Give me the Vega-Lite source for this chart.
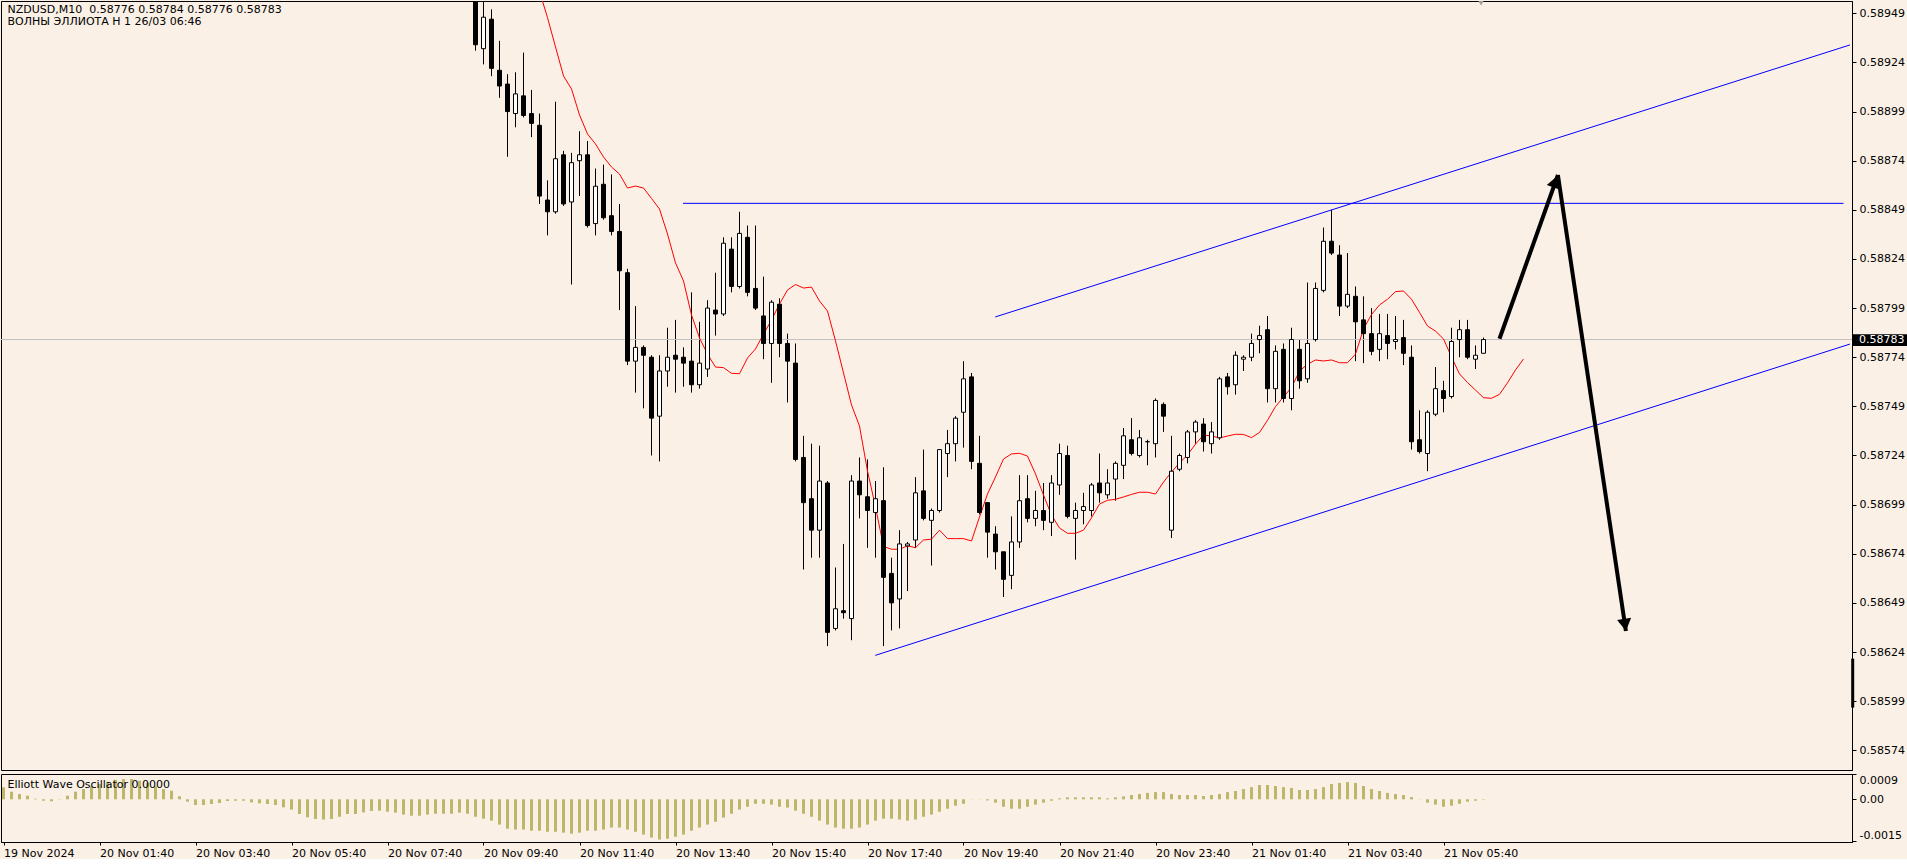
{
"$schema": "https://vega.github.io/schema/vega-lite/v6.json",
"padding": 0,
"background": "#FAF0E6",
"spacing": 2,
"config": {
  "view": {"stroke": "black", "strokeWidth": 1},
  "font": "DejaVu Sans",
  "scale": {"continuousPadding": 0},
  "axis": {"labelFont": "DejaVu Sans", "labelFontSize": 11, "labelColor": "black", "tickColor": "black", "domainColor": "black", "grid": false, "title": null}
},
"datasets": {
"candles": [
{"t":"2024-11-20T09:30","o":0.58962,"h":0.58966,"l":0.5893,"c":0.58933},
{"t":"2024-11-20T09:40","o":0.58931,"h":0.5896,"l":0.58923,"c":0.58947},
{"t":"2024-11-20T09:50","o":0.58946,"h":0.58951,"l":0.58917,"c":0.58921},
{"t":"2024-11-20T10:00","o":0.5892,"h":0.58935,"l":0.58906,"c":0.58912},
{"t":"2024-11-20T10:10","o":0.58913,"h":0.58918,"l":0.58876,"c":0.58899},
{"t":"2024-11-20T10:20","o":0.58898,"h":0.58919,"l":0.58891,"c":0.58908},
{"t":"2024-11-20T10:30","o":0.58907,"h":0.58929,"l":0.58896,"c":0.58897},
{"t":"2024-11-20T10:40","o":0.58898,"h":0.5891,"l":0.58886,"c":0.58893},
{"t":"2024-11-20T10:50","o":0.58892,"h":0.58898,"l":0.58852,"c":0.58856},
{"t":"2024-11-20T11:00","o":0.58854,"h":0.58864,"l":0.58836,"c":0.58848},
{"t":"2024-11-20T11:10","o":0.58848,"h":0.58904,"l":0.58847,"c":0.58875},
{"t":"2024-11-20T11:20","o":0.58877,"h":0.58879,"l":0.58851,"c":0.58852},
{"t":"2024-11-20T11:30","o":0.58853,"h":0.58878,"l":0.58811,"c":0.58873},
{"t":"2024-11-20T11:40","o":0.58874,"h":0.58889,"l":0.58856,"c":0.58877},
{"t":"2024-11-20T11:50","o":0.58877,"h":0.58884,"l":0.5884,"c":0.58841},
{"t":"2024-11-20T12:00","o":0.58842,"h":0.5887,"l":0.58836,"c":0.58861},
{"t":"2024-11-20T12:10","o":0.58862,"h":0.58872,"l":0.58844,"c":0.58845},
{"t":"2024-11-20T12:20","o":0.58846,"h":0.58867,"l":0.58836,"c":0.58838},
{"t":"2024-11-20T12:30","o":0.58838,"h":0.58852,"l":0.58798,"c":0.58818},
{"t":"2024-11-20T12:40","o":0.58817,"h":0.58819,"l":0.5877,"c":0.58772},
{"t":"2024-11-20T12:50","o":0.58772,"h":0.588,"l":0.58756,"c":0.58779},
{"t":"2024-11-20T13:00","o":0.58779,"h":0.5878,"l":0.58748,"c":0.58775},
{"t":"2024-11-20T13:10","o":0.58774,"h":0.58775,"l":0.58724,"c":0.58743},
{"t":"2024-11-20T13:20","o":0.58744,"h":0.58775,"l":0.58721,"c":0.58767},
{"t":"2024-11-20T13:30","o":0.58767,"h":0.58789,"l":0.58759,"c":0.58774},
{"t":"2024-11-20T13:40","o":0.58775,"h":0.58793,"l":0.58756,"c":0.58773},
{"t":"2024-11-20T13:50","o":0.58774,"h":0.58779,"l":0.58759,"c":0.58771},
{"t":"2024-11-20T14:00","o":0.58772,"h":0.58807,"l":0.58756,"c":0.5876},
{"t":"2024-11-20T14:10","o":0.5876,"h":0.58792,"l":0.58758,"c":0.58771},
{"t":"2024-11-20T14:20","o":0.58768,"h":0.58803,"l":0.58764,"c":0.58799},
{"t":"2024-11-20T14:30","o":0.58798,"h":0.58817,"l":0.58785,"c":0.58796},
{"t":"2024-11-20T14:40","o":0.58796,"h":0.58835,"l":0.58795,"c":0.58832},
{"t":"2024-11-20T14:50","o":0.58829,"h":0.58835,"l":0.58807,"c":0.5881},
{"t":"2024-11-20T15:00","o":0.5881,"h":0.58848,"l":0.58809,"c":0.58837},
{"t":"2024-11-20T15:10","o":0.58835,"h":0.58841,"l":0.58805,"c":0.58807},
{"t":"2024-11-20T15:20","o":0.58809,"h":0.58841,"l":0.58798,"c":0.58799},
{"t":"2024-11-20T15:30","o":0.58795,"h":0.58815,"l":0.58773,"c":0.58781},
{"t":"2024-11-20T15:40","o":0.58781,"h":0.58803,"l":0.58761,"c":0.58802},
{"t":"2024-11-20T15:50","o":0.58801,"h":0.58804,"l":0.58774,"c":0.58781},
{"t":"2024-11-20T16:00","o":0.58781,"h":0.58786,"l":0.58751,"c":0.58772},
{"t":"2024-11-20T16:10","o":0.58771,"h":0.58781,"l":0.58721,"c":0.58722},
{"t":"2024-11-20T16:20","o":0.58723,"h":0.58734,"l":0.58666,"c":0.587},
{"t":"2024-11-20T16:30","o":0.58702,"h":0.5873,"l":0.58672,"c":0.58686},
{"t":"2024-11-20T16:40","o":0.58686,"h":0.58729,"l":0.58672,"c":0.58711},
{"t":"2024-11-20T16:50","o":0.5871,"h":0.58711,"l":0.58627,"c":0.58634},
{"t":"2024-11-20T17:00","o":0.58636,"h":0.58667,"l":0.58635,"c":0.58646},
{"t":"2024-11-20T17:10","o":0.58645,"h":0.58679,"l":0.58641,"c":0.58644},
{"t":"2024-11-20T17:20","o":0.58641,"h":0.58714,"l":0.5863,"c":0.58711},
{"t":"2024-11-20T17:30","o":0.58711,"h":0.58723,"l":0.58692,"c":0.58704},
{"t":"2024-11-20T17:40","o":0.58703,"h":0.58722,"l":0.58677,"c":0.58696},
{"t":"2024-11-20T17:50","o":0.58695,"h":0.58711,"l":0.58672,"c":0.58702},
{"t":"2024-11-20T18:00","o":0.58701,"h":0.58718,"l":0.58627,"c":0.58662},
{"t":"2024-11-20T18:10","o":0.58664,"h":0.58672,"l":0.58635,"c":0.58649},
{"t":"2024-11-20T18:20","o":0.58651,"h":0.58686,"l":0.58636,"c":0.58679},
{"t":"2024-11-20T18:30","o":0.58678,"h":0.5868,"l":0.58655,"c":0.58679},
{"t":"2024-11-20T18:40","o":0.58681,"h":0.58713,"l":0.58677,"c":0.58705},
{"t":"2024-11-20T18:50","o":0.58706,"h":0.58727,"l":0.58691,"c":0.58692},
{"t":"2024-11-20T19:00","o":0.58691,"h":0.58697,"l":0.58668,"c":0.58696},
{"t":"2024-11-20T19:10","o":0.58696,"h":0.58727,"l":0.58695,"c":0.58727},
{"t":"2024-11-20T19:20","o":0.58725,"h":0.58737,"l":0.58713,"c":0.5873},
{"t":"2024-11-20T19:30","o":0.5873,"h":0.58744,"l":0.58721,"c":0.58743},
{"t":"2024-11-20T19:40","o":0.58746,"h":0.58772,"l":0.58728,"c":0.58763},
{"t":"2024-11-20T19:50","o":0.58764,"h":0.58766,"l":0.58717,"c":0.58721},
{"t":"2024-11-20T20:00","o":0.5872,"h":0.58734,"l":0.58694,"c":0.58695},
{"t":"2024-11-20T20:10","o":0.587,"h":0.587,"l":0.58672,"c":0.58685},
{"t":"2024-11-20T20:20","o":0.58684,"h":0.58688,"l":0.58666,"c":0.58675},
{"t":"2024-11-20T20:30","o":0.58675,"h":0.58675,"l":0.58652,"c":0.58661},
{"t":"2024-11-20T20:40","o":0.58663,"h":0.58693,"l":0.58656,"c":0.5868},
{"t":"2024-11-20T20:50","o":0.5868,"h":0.58714,"l":0.58677,"c":0.58701},
{"t":"2024-11-20T21:00","o":0.58702,"h":0.58714,"l":0.5869,"c":0.58692},
{"t":"2024-11-20T21:10","o":0.58692,"h":0.58706,"l":0.58688,"c":0.58696},
{"t":"2024-11-20T21:20","o":0.58696,"h":0.5871,"l":0.58686,"c":0.58691},
{"t":"2024-11-20T21:30","o":0.5869,"h":0.58714,"l":0.58683,"c":0.5871},
{"t":"2024-11-20T21:40","o":0.58709,"h":0.5873,"l":0.58704,"c":0.58725},
{"t":"2024-11-20T21:50","o":0.58724,"h":0.58729,"l":0.58692,"c":0.58693},
{"t":"2024-11-20T22:00","o":0.58692,"h":0.587,"l":0.58671,"c":0.58696},
{"t":"2024-11-20T22:10","o":0.58696,"h":0.58705,"l":0.58689,"c":0.58698},
{"t":"2024-11-20T22:20","o":0.58696,"h":0.5871,"l":0.58693,"c":0.58709},
{"t":"2024-11-20T22:30","o":0.5871,"h":0.58725,"l":0.587,"c":0.58705},
{"t":"2024-11-20T22:40","o":0.58704,"h":0.58717,"l":0.58702,"c":0.5871},
{"t":"2024-11-20T22:50","o":0.58712,"h":0.58721,"l":0.58701,"c":0.5872},
{"t":"2024-11-20T23:00","o":0.58719,"h":0.58738,"l":0.58712,"c":0.58734},
{"t":"2024-11-20T23:10","o":0.58732,"h":0.58743,"l":0.58724,"c":0.58725},
{"t":"2024-11-20T23:20","o":0.58724,"h":0.58737,"l":0.58723,"c":0.58733},
{"t":"2024-11-20T23:30","o":0.58731,"h":0.58732,"l":0.58719,"c":0.58731},
{"t":"2024-11-20T23:40","o":0.5873,"h":0.58753,"l":0.58723,"c":0.58752},
{"t":"2024-11-20T23:50","o":0.5875,"h":0.58751,"l":0.58736,"c":0.58744},
{"t":"2024-11-21T00:00","o":0.58686,"h":0.58734,"l":0.58682,"c":0.58716},
{"t":"2024-11-21T00:10","o":0.58717,"h":0.58725,"l":0.58716,"c":0.58724},
{"t":"2024-11-21T00:20","o":0.58723,"h":0.58737,"l":0.5872,"c":0.58736},
{"t":"2024-11-21T00:30","o":0.58736,"h":0.58742,"l":0.5873,"c":0.58741},
{"t":"2024-11-21T00:40","o":0.5874,"h":0.58743,"l":0.58726,"c":0.58731},
{"t":"2024-11-21T00:50","o":0.5873,"h":0.58741,"l":0.58725,"c":0.58736},
{"t":"2024-11-21T01:00","o":0.58733,"h":0.58764,"l":0.58732,"c":0.58763},
{"t":"2024-11-21T01:10","o":0.58764,"h":0.58766,"l":0.58755,"c":0.58759},
{"t":"2024-11-21T01:20","o":0.5876,"h":0.58777,"l":0.58755,"c":0.58775},
{"t":"2024-11-21T01:30","o":0.58773,"h":0.58775,"l":0.58767,"c":0.58774},
{"t":"2024-11-21T01:40","o":0.58774,"h":0.58786,"l":0.58772,"c":0.58781},
{"t":"2024-11-21T01:50","o":0.58783,"h":0.5879,"l":0.58776,"c":0.58785},
{"t":"2024-11-21T02:00","o":0.58788,"h":0.58795,"l":0.58751,"c":0.58758},
{"t":"2024-11-21T02:10","o":0.58758,"h":0.5878,"l":0.58751,"c":0.58777},
{"t":"2024-11-21T02:20","o":0.58778,"h":0.58781,"l":0.58751,"c":0.58753},
{"t":"2024-11-21T02:30","o":0.58753,"h":0.58789,"l":0.58747,"c":0.58783},
{"t":"2024-11-21T02:40","o":0.58778,"h":0.58783,"l":0.58758,"c":0.58762},
{"t":"2024-11-21T02:50","o":0.58763,"h":0.58812,"l":0.58761,"c":0.58781},
{"t":"2024-11-21T03:00","o":0.58783,"h":0.58812,"l":0.58782,"c":0.58809},
{"t":"2024-11-21T03:10","o":0.58808,"h":0.5884,"l":0.58807,"c":0.58833},
{"t":"2024-11-21T03:20","o":0.58833,"h":0.58849,"l":0.58826,"c":0.58827},
{"t":"2024-11-21T03:30","o":0.58826,"h":0.58831,"l":0.58795,"c":0.588},
{"t":"2024-11-21T03:40","o":0.588,"h":0.58827,"l":0.58799,"c":0.58806},
{"t":"2024-11-21T03:50","o":0.58805,"h":0.5881,"l":0.58772,"c":0.58792},
{"t":"2024-11-21T04:00","o":0.58793,"h":0.58805,"l":0.58771,"c":0.58786},
{"t":"2024-11-21T04:10","o":0.58786,"h":0.58799,"l":0.58775,"c":0.58777},
{"t":"2024-11-21T04:20","o":0.58778,"h":0.58796,"l":0.58772,"c":0.58786},
{"t":"2024-11-21T04:30","o":0.58785,"h":0.58796,"l":0.58773,"c":0.58781},
{"t":"2024-11-21T04:40","o":0.58782,"h":0.58795,"l":0.58778,"c":0.58783},
{"t":"2024-11-21T04:50","o":0.58784,"h":0.58793,"l":0.5877,"c":0.58776},
{"t":"2024-11-21T05:00","o":0.58774,"h":0.5878,"l":0.58727,"c":0.58731},
{"t":"2024-11-21T05:10","o":0.58732,"h":0.58747,"l":0.58725,"c":0.58726},
{"t":"2024-11-21T05:20","o":0.58725,"h":0.58747,"l":0.58716,"c":0.58746},
{"t":"2024-11-21T05:30","o":0.58745,"h":0.58769,"l":0.58744,"c":0.58758},
{"t":"2024-11-21T05:40","o":0.58757,"h":0.58762,"l":0.58746,"c":0.58753},
{"t":"2024-11-21T05:50","o":0.58754,"h":0.58789,"l":0.58753,"c":0.58782},
{"t":"2024-11-21T06:00","o":0.58783,"h":0.58793,"l":0.58774,"c":0.58788},
{"t":"2024-11-21T06:10","o":0.58788,"h":0.58793,"l":0.58773,"c":0.58774},
{"t":"2024-11-21T06:20","o":0.58773,"h":0.5878,"l":0.58768,"c":0.58775},
{"t":"2024-11-21T06:30","o":0.58776,"h":0.58784,"l":0.58776,"c":0.58783}
],
"ma": [
{"t":"2024-11-20T10:50","v":0.589602},{"t":"2024-11-20T11:00","v":0.589468},{"t":"2024-11-20T11:10","v":0.589319},{"t":"2024-11-20T11:20","v":0.589171},
{"t":"2024-11-20T11:30","v":0.589105},{"t":"2024-11-20T11:40","v":0.588973},{"t":"2024-11-20T11:50","v":0.588876},{"t":"2024-11-20T12:00","v":0.588825},
{"t":"2024-11-20T12:10","v":0.588759},{"t":"2024-11-20T12:20","v":0.588708},{"t":"2024-11-20T12:30","v":0.588672},{"t":"2024-11-20T12:40","v":0.588601},
{"t":"2024-11-20T12:50","v":0.588611},{"t":"2024-11-20T13:00","v":0.588601},{"t":"2024-11-20T13:10","v":0.588548},{"t":"2024-11-20T13:20","v":0.588494},
{"t":"2024-11-20T13:30","v":0.588367},{"t":"2024-11-20T13:40","v":0.58822},{"t":"2024-11-20T13:50","v":0.588128},{"t":"2024-11-20T14:00","v":0.587955},
{"t":"2024-11-20T14:10","v":0.587838},{"t":"2024-11-20T14:20","v":0.587756},{"t":"2024-11-20T14:30","v":0.58769},{"t":"2024-11-20T14:40","v":0.587687},
{"t":"2024-11-20T14:50","v":0.587658},{"t":"2024-11-20T15:00","v":0.587656},{"t":"2024-11-20T15:10","v":0.587736},{"t":"2024-11-20T15:20","v":0.587782},
{"t":"2024-11-20T15:30","v":0.587858},{"t":"2024-11-20T15:40","v":0.587929},{"t":"2024-11-20T15:50","v":0.588011},{"t":"2024-11-20T16:00","v":0.588082},
{"t":"2024-11-20T16:10","v":0.58811},{"t":"2024-11-20T16:20","v":0.588092},{"t":"2024-11-20T16:30","v":0.588097},{"t":"2024-11-20T16:40","v":0.588026},
{"t":"2024-11-20T16:50","v":0.587975},{"t":"2024-11-20T17:00","v":0.587823},{"t":"2024-11-20T17:10","v":0.58766},{"t":"2024-11-20T17:20","v":0.587497},
{"t":"2024-11-20T17:30","v":0.58739},{"t":"2024-11-20T17:40","v":0.587161},{"t":"2024-11-20T17:50","v":0.586978},{"t":"2024-11-20T18:00","v":0.586777},
{"t":"2024-11-20T18:10","v":0.586763},{"t":"2024-11-20T18:20","v":0.586763},{"t":"2024-11-20T18:30","v":0.58678},{"t":"2024-11-20T18:40","v":0.586771},
{"t":"2024-11-20T18:50","v":0.58681},{"t":"2024-11-20T19:00","v":0.586814},{"t":"2024-11-20T19:10","v":0.58686},{"t":"2024-11-20T19:20","v":0.586817},
{"t":"2024-11-20T19:30","v":0.586817},{"t":"2024-11-20T19:40","v":0.586817},{"t":"2024-11-20T19:50","v":0.586805},{"t":"2024-11-20T20:00","v":0.586927},
{"t":"2024-11-20T20:10","v":0.587044},{"t":"2024-11-20T20:20","v":0.587131},{"t":"2024-11-20T20:30","v":0.587222},{"t":"2024-11-20T20:40","v":0.587248},
{"t":"2024-11-20T20:50","v":0.587251},{"t":"2024-11-20T21:00","v":0.587237},{"t":"2024-11-20T21:10","v":0.587146},{"t":"2024-11-20T21:20","v":0.587039},
{"t":"2024-11-20T21:30","v":0.586937},{"t":"2024-11-20T21:40","v":0.586871},{"t":"2024-11-20T21:50","v":0.586844},{"t":"2024-11-20T22:00","v":0.586844},
{"t":"2024-11-20T22:10","v":0.58686},{"t":"2024-11-20T22:20","v":0.586923},{"t":"2024-11-20T22:30","v":0.586993},{"t":"2024-11-20T22:40","v":0.587012},
{"t":"2024-11-20T22:50","v":0.587017},{"t":"2024-11-20T23:00","v":0.587029},{"t":"2024-11-20T23:10","v":0.587042},{"t":"2024-11-20T23:20","v":0.587053},
{"t":"2024-11-20T23:30","v":0.587053},{"t":"2024-11-20T23:40","v":0.587044},{"t":"2024-11-20T23:50","v":0.587105},{"t":"2024-11-21T00:00","v":0.587156},
{"t":"2024-11-21T00:10","v":0.587202},{"t":"2024-11-21T00:20","v":0.587243},{"t":"2024-11-21T00:30","v":0.587298},{"t":"2024-11-21T00:40","v":0.587344},
{"t":"2024-11-21T00:50","v":0.587339},{"t":"2024-11-21T01:00","v":0.587329},{"t":"2024-11-21T01:10","v":0.587339},{"t":"2024-11-21T01:20","v":0.587348},
{"t":"2024-11-21T01:30","v":0.587347},{"t":"2024-11-21T01:40","v":0.587331},{"t":"2024-11-21T01:50","v":0.587357},{"t":"2024-11-21T02:00","v":0.587419},
{"t":"2024-11-21T02:10","v":0.587489},{"t":"2024-11-21T02:20","v":0.587538},{"t":"2024-11-21T02:30","v":0.587586},{"t":"2024-11-21T02:40","v":0.58767},
{"t":"2024-11-21T02:50","v":0.587704},{"t":"2024-11-21T03:00","v":0.587726},{"t":"2024-11-21T03:10","v":0.587721},{"t":"2024-11-21T03:20","v":0.587726},
{"t":"2024-11-21T03:30","v":0.587712},{"t":"2024-11-21T03:40","v":0.587712},{"t":"2024-11-21T03:50","v":0.587756},{"t":"2024-11-21T04:00","v":0.587884},
{"t":"2024-11-21T04:10","v":0.587957},{"t":"2024-11-21T04:20","v":0.588006},{"t":"2024-11-21T04:30","v":0.588035},{"t":"2024-11-21T04:40","v":0.588074},
{"t":"2024-11-21T04:50","v":0.588077},{"t":"2024-11-21T05:00","v":0.588035},{"t":"2024-11-21T05:10","v":0.587968},{"t":"2024-11-21T05:20","v":0.587899},
{"t":"2024-11-21T05:30","v":0.587873},{"t":"2024-11-21T05:40","v":0.587833},{"t":"2024-11-21T05:50","v":0.587741},{"t":"2024-11-21T06:00","v":0.587655},
{"t":"2024-11-21T06:10","v":0.587611},{"t":"2024-11-21T06:20","v":0.587573},{"t":"2024-11-21T06:30","v":0.587534},{"t":"2024-11-21T06:40","v":0.587531},
{"t":"2024-11-21T06:50","v":0.587551},{"t":"2024-11-21T07:00","v":0.58761},{"t":"2024-11-21T07:10","v":0.587675},{"t":"2024-11-21T07:20","v":0.587731}
],
"osc": [
{"t":"2024-11-19T23:40","v":0.00043},{"t":"2024-11-19T23:50","v":0.000275},{"t":"2024-11-20T00:00","v":0.00019},{"t":"2024-11-20T00:10","v":0.00013},
{"t":"2024-11-20T00:20","v":0.00002},{"t":"2024-11-20T00:30","v":-0.00005},{"t":"2024-11-20T00:40","v":-0.00007},{"t":"2024-11-20T00:50","v":0.00001},
{"t":"2024-11-20T01:00","v":0.00013},{"t":"2024-11-20T01:10","v":0.000275},{"t":"2024-11-20T01:20","v":0.00037},{"t":"2024-11-20T01:30","v":0.00047},
{"t":"2024-11-20T01:40","v":0.00055},{"t":"2024-11-20T01:50","v":0.00063},{"t":"2024-11-20T02:00","v":0.0007},{"t":"2024-11-20T02:10","v":0.00073},
{"t":"2024-11-20T02:20","v":0.00073},{"t":"2024-11-20T02:30","v":0.00067},{"t":"2024-11-20T02:40","v":0.00059},{"t":"2024-11-20T02:50","v":0.00047},
{"t":"2024-11-20T03:00","v":0.00037},{"t":"2024-11-20T03:10","v":0.00031},{"t":"2024-11-20T03:20","v":0.00011},{"t":"2024-11-20T03:30","v":-0.000085},
{"t":"2024-11-20T03:40","v":-0.000205},{"t":"2024-11-20T03:50","v":-0.000205},{"t":"2024-11-20T04:00","v":-0.00017},{"t":"2024-11-20T04:10","v":-0.000133},
{"t":"2024-11-20T04:20","v":-0.00006},{"t":"2024-11-20T04:30","v":-0.00005},{"t":"2024-11-20T04:40","v":-0.00005},{"t":"2024-11-20T04:50","v":-0.00011},
{"t":"2024-11-20T05:00","v":-0.000145},{"t":"2024-11-20T05:10","v":-0.00017},{"t":"2024-11-20T05:20","v":-0.000205},{"t":"2024-11-20T05:30","v":-0.00029},
{"t":"2024-11-20T05:40","v":-0.00037},{"t":"2024-11-20T05:50","v":-0.00053},{"t":"2024-11-20T06:00","v":-0.00065},{"t":"2024-11-20T06:10","v":-0.00071},
{"t":"2024-11-20T06:20","v":-0.00073},{"t":"2024-11-20T06:30","v":-0.00071},{"t":"2024-11-20T06:40","v":-0.00063},{"t":"2024-11-20T06:50","v":-0.00053},
{"t":"2024-11-20T07:00","v":-0.00053},{"t":"2024-11-20T07:10","v":-0.00047},{"t":"2024-11-20T07:20","v":-0.00042},{"t":"2024-11-20T07:30","v":-0.00041},
{"t":"2024-11-20T07:40","v":-0.000446},{"t":"2024-11-20T07:50","v":-0.00048},{"t":"2024-11-20T08:00","v":-0.00055},{"t":"2024-11-20T08:10","v":-0.00059},
{"t":"2024-11-20T08:20","v":-0.00059},{"t":"2024-11-20T08:30","v":-0.00055},{"t":"2024-11-20T08:40","v":-0.00052},{"t":"2024-11-20T08:50","v":-0.00052},
{"t":"2024-11-20T09:00","v":-0.00052},{"t":"2024-11-20T09:10","v":-0.00048},{"t":"2024-11-20T09:20","v":-0.00052},{"t":"2024-11-20T09:30","v":-0.00063},
{"t":"2024-11-20T09:40","v":-0.0007},{"t":"2024-11-20T09:50","v":-0.00077},{"t":"2024-11-20T10:00","v":-0.00091},{"t":"2024-11-20T10:10","v":-0.00106},
{"t":"2024-11-20T10:20","v":-0.00109},{"t":"2024-11-20T10:30","v":-0.00109},{"t":"2024-11-20T10:40","v":-0.00113},{"t":"2024-11-20T10:50","v":-0.00113},
{"t":"2024-11-20T11:00","v":-0.00117},{"t":"2024-11-20T11:10","v":-0.00117},{"t":"2024-11-20T11:20","v":-0.0012},{"t":"2024-11-20T11:30","v":-0.00124},
{"t":"2024-11-20T11:40","v":-0.0012},{"t":"2024-11-20T11:50","v":-0.00113},{"t":"2024-11-20T12:00","v":-0.00113},{"t":"2024-11-20T12:10","v":-0.00109},
{"t":"2024-11-20T12:20","v":-0.00102},{"t":"2024-11-20T12:30","v":-0.00102},{"t":"2024-11-20T12:40","v":-0.00109},{"t":"2024-11-20T12:50","v":-0.00117},
{"t":"2024-11-20T13:00","v":-0.00127},{"t":"2024-11-20T13:10","v":-0.00138},{"t":"2024-11-20T13:20","v":-0.00145},{"t":"2024-11-20T13:30","v":-0.00142},
{"t":"2024-11-20T13:40","v":-0.00135},{"t":"2024-11-20T13:50","v":-0.00127},{"t":"2024-11-20T14:00","v":-0.00113},{"t":"2024-11-20T14:10","v":-0.00102},
{"t":"2024-11-20T14:20","v":-0.00091},{"t":"2024-11-20T14:30","v":-0.00081},{"t":"2024-11-20T14:40","v":-0.00066},{"t":"2024-11-20T14:50","v":-0.00052},
{"t":"2024-11-20T15:00","v":-0.00037},{"t":"2024-11-20T15:10","v":-0.00027},{"t":"2024-11-20T15:20","v":-0.00016},{"t":"2024-11-20T15:30","v":-0.00016},
{"t":"2024-11-20T15:40","v":-0.00019},{"t":"2024-11-20T15:50","v":-0.00027},{"t":"2024-11-20T16:00","v":-0.0003},{"t":"2024-11-20T16:10","v":-0.00041},
{"t":"2024-11-20T16:20","v":-0.00052},{"t":"2024-11-20T16:30","v":-0.00063},{"t":"2024-11-20T16:40","v":-0.00077},{"t":"2024-11-20T16:50","v":-0.00091},
{"t":"2024-11-20T17:00","v":-0.00102},{"t":"2024-11-20T17:10","v":-0.00106},{"t":"2024-11-20T17:20","v":-0.00106},{"t":"2024-11-20T17:30","v":-0.00102},
{"t":"2024-11-20T17:40","v":-0.00091},{"t":"2024-11-20T17:50","v":-0.00077},{"t":"2024-11-20T18:00","v":-0.0007},{"t":"2024-11-20T18:10","v":-0.0007},
{"t":"2024-11-20T18:20","v":-0.00073},{"t":"2024-11-20T18:30","v":-0.00077},{"t":"2024-11-20T18:40","v":-0.00073},{"t":"2024-11-20T18:50","v":-0.00063},
{"t":"2024-11-20T19:00","v":-0.00055},{"t":"2024-11-20T19:10","v":-0.000446},{"t":"2024-11-20T19:20","v":-0.00034},{"t":"2024-11-20T19:30","v":-0.00023},
{"t":"2024-11-20T19:40","v":-0.00016},{"t":"2024-11-20T19:50","v":-0.000005},{"t":"2024-11-20T20:00","v":-0.000005},{"t":"2024-11-20T20:10","v":-0.00004},
{"t":"2024-11-20T20:20","v":-0.00012},{"t":"2024-11-20T20:30","v":-0.00027},{"t":"2024-11-20T20:40","v":-0.00034},{"t":"2024-11-20T20:50","v":-0.00034},
{"t":"2024-11-20T21:00","v":-0.00027},{"t":"2024-11-20T21:10","v":-0.00019},{"t":"2024-11-20T21:20","v":-0.00012},{"t":"2024-11-20T21:30","v":-0.00005},
{"t":"2024-11-20T21:40","v":0.000035},{"t":"2024-11-20T21:50","v":0.00007},{"t":"2024-11-20T22:00","v":0.00007},{"t":"2024-11-20T22:10","v":0.00007},
{"t":"2024-11-20T22:20","v":0.00007},{"t":"2024-11-20T22:30","v":0.00007},{"t":"2024-11-20T22:40","v":0.000035},{"t":"2024-11-20T22:50","v":0.00007},
{"t":"2024-11-20T23:00","v":0.000107},{"t":"2024-11-20T23:10","v":0.000155},{"t":"2024-11-20T23:20","v":0.00019},{"t":"2024-11-20T23:30","v":0.00023},
{"t":"2024-11-20T23:40","v":0.00026},{"t":"2024-11-20T23:50","v":0.00026},{"t":"2024-11-21T00:00","v":0.00019},{"t":"2024-11-21T00:10","v":0.000155},
{"t":"2024-11-21T00:20","v":0.000155},{"t":"2024-11-21T00:30","v":0.000155},{"t":"2024-11-21T00:40","v":0.00012},{"t":"2024-11-21T00:50","v":0.000155},
{"t":"2024-11-21T01:00","v":0.00019},{"t":"2024-11-21T01:10","v":0.00026},{"t":"2024-11-21T01:20","v":0.0003},{"t":"2024-11-21T01:30","v":0.00037},
{"t":"2024-11-21T01:40","v":0.00044},{"t":"2024-11-21T01:50","v":0.000515},{"t":"2024-11-21T02:00","v":0.000515},{"t":"2024-11-21T02:10","v":0.00048},
{"t":"2024-11-21T02:20","v":0.00044},{"t":"2024-11-21T02:30","v":0.00041},{"t":"2024-11-21T02:40","v":0.000335},{"t":"2024-11-21T02:50","v":0.000335},
{"t":"2024-11-21T03:00","v":0.00037},{"t":"2024-11-21T03:10","v":0.00044},{"t":"2024-11-21T03:20","v":0.00055},{"t":"2024-11-21T03:30","v":0.00059},
{"t":"2024-11-21T03:40","v":0.00062},{"t":"2024-11-21T03:50","v":0.00059},{"t":"2024-11-21T04:00","v":0.00048},{"t":"2024-11-21T04:10","v":0.00037},
{"t":"2024-11-21T04:20","v":0.0003},{"t":"2024-11-21T04:30","v":0.00023},{"t":"2024-11-21T04:40","v":0.00019},{"t":"2024-11-21T04:50","v":0.000155},
{"t":"2024-11-21T05:00","v":0.00008},{"t":"2024-11-21T05:10","v":-0.000005},{"t":"2024-11-21T05:20","v":-0.00012},{"t":"2024-11-21T05:30","v":-0.00019},
{"t":"2024-11-21T05:40","v":-0.00027},{"t":"2024-11-21T05:50","v":-0.00023},{"t":"2024-11-21T06:00","v":-0.00016},{"t":"2024-11-21T06:10","v":-0.000085},
{"t":"2024-11-21T06:20","v":-0.00005},{"t":"2024-11-21T06:30","v":-0.000013}
],
"lines": [
{"t1":"2024-11-20T13:49:24","t2":"2024-11-21T14:00:00","p1":0.588523,"p2":0.588523},
{"t1":"2024-11-20T20:19:45","t2":"2024-11-21T14:08:06","p1":0.587945,"p2":0.589329},
{"t1":"2024-11-20T17:49:45","t2":"2024-11-21T14:08:06","p1":0.586223,"p2":0.587807}
],
"arrows": [
{"t1":"2024-11-21T06:50:00","t2":"2024-11-21T08:03:00","p1":0.587834,"p2":0.588667},
{"t1":"2024-11-21T08:03:00","t2":"2024-11-21T09:28:00","p1":0.588667,"p2":0.586347}
],
"headers": [
{"t":"2024-11-19T23:45:00","p":0.5895043,"label":"NZDUSD,M10\u00a0 0.58776 0.58784 0.58776 0.58783"},
{"t":"2024-11-19T23:45:00","p":0.5894432,"label":"ВОЛНЫ ЭЛЛИОТА H 1 26/03 06:46"}
]
},
"vconcat": [
{
  "width": 1851,
  "height": 769,
  "layer": [
    {
      "data": {"name": "candles"},
      "mark": {"type": "rule", "color": "black", "strokeWidth": 1, "clip": true},
      "encoding": {
        "x": {"field": "t", "type": "temporal", "scale": {"domain": [{"year": 2024, "month": 11, "date": 19, "hours": 23, "minutes": 36, "seconds": 52, "milliseconds": 500}, {"year": 2024, "month": 11, "date": 21, "hours": 14, "minutes": 10, "seconds": 37, "milliseconds": 500}], "nice": false, "padding": 0}, "axis": null},
        "y": {"field": "h", "type": "quantitative", "scale": {"domain": [0.58563964, 0.5895526], "nice": false, "zero": false},
          "axis": {"orient": "right", "title": null, "values": [0.58574, 0.58599, 0.58624, 0.58649, 0.58674, 0.58699, 0.58724, 0.58749, 0.58774, 0.58799, 0.58824, 0.58849, 0.58874, 0.58899, 0.58924, 0.58949], "format": ".5f", "grid": false, "domain": true, "tickSize": 4, "labelPadding": 3, "labelAlign": "left", "labelBaseline": "middle", "labelOverlap": false, "labelFlush": false}},
        "y2": {"field": "l"}
      }
    },
    {
      "data": {"values": [{"p": 0.58783}]},
      "mark": {"type": "rule", "color": "#C0C0C0", "strokeWidth": 1},
      "encoding": {
        "y": {"field": "p", "type": "quantitative", "scale": {"domain": [0.58563964, 0.5895526], "nice": false, "zero": false},
          "axis": {"orient": "right", "title": null, "values": [0.58574, 0.58599, 0.58624, 0.58649, 0.58674, 0.58699, 0.58724, 0.58749, 0.58774, 0.58799, 0.58824, 0.58849, 0.58874, 0.58899, 0.58924, 0.58949], "format": ".5f", "grid": false, "domain": true, "tickSize": 4, "labelPadding": 3, "labelAlign": "left", "labelBaseline": "middle", "labelOverlap": false, "labelFlush": false}}
      }
    },
    {
      "data": {"values": [{"t": "2024-11-21T06:26:54", "p": 0.5895526}]},
      "mark": {"type": "point", "shape": "triangle-down", "filled": true, "color": "#A0A0A0", "opacity": 1, "size": 110, "clip": true},
      "encoding": {
        "x": {"field": "t", "type": "temporal", "scale": {"domain": [{"year": 2024, "month": 11, "date": 19, "hours": 23, "minutes": 36, "seconds": 52, "milliseconds": 500}, {"year": 2024, "month": 11, "date": 21, "hours": 14, "minutes": 10, "seconds": 37, "milliseconds": 500}], "nice": false, "padding": 0}, "axis": null},
        "y": {"field": "p", "type": "quantitative", "scale": {"domain": [0.58563964, 0.5895526], "nice": false, "zero": false},
          "axis": {"orient": "right", "title": null, "values": [0.58574, 0.58599, 0.58624, 0.58649, 0.58674, 0.58699, 0.58724, 0.58749, 0.58774, 0.58799, 0.58824, 0.58849, 0.58874, 0.58899, 0.58924, 0.58949], "format": ".5f", "grid": false, "domain": true, "tickSize": 4, "labelPadding": 3, "labelAlign": "left", "labelBaseline": "middle", "labelOverlap": false, "labelFlush": false}}
      }
    },
    {
      "data": {"name": "lines"},
      "mark": {"type": "rule", "color": "#0000FF", "strokeWidth": 1},
      "encoding": {
        "x": {"field": "t1", "type": "temporal", "scale": {"domain": [{"year": 2024, "month": 11, "date": 19, "hours": 23, "minutes": 36, "seconds": 52, "milliseconds": 500}, {"year": 2024, "month": 11, "date": 21, "hours": 14, "minutes": 10, "seconds": 37, "milliseconds": 500}], "nice": false, "padding": 0}, "axis": null},
        "x2": {"field": "t2"},
        "y": {"field": "p1", "type": "quantitative", "scale": {"domain": [0.58563964, 0.5895526], "nice": false, "zero": false},
          "axis": {"orient": "right", "title": null, "values": [0.58574, 0.58599, 0.58624, 0.58649, 0.58674, 0.58699, 0.58724, 0.58749, 0.58774, 0.58799, 0.58824, 0.58849, 0.58874, 0.58899, 0.58924, 0.58949], "format": ".5f", "grid": false, "domain": true, "tickSize": 4, "labelPadding": 3, "labelAlign": "left", "labelBaseline": "middle", "labelOverlap": false, "labelFlush": false}},
        "y2": {"field": "p2"}
      }
    },
    {
      "data": {"name": "ma"},
      "mark": {"type": "line", "color": "#FF0000", "strokeWidth": 1, "clip": true},
      "encoding": {
        "x": {"field": "t", "type": "temporal", "scale": {"domain": [{"year": 2024, "month": 11, "date": 19, "hours": 23, "minutes": 36, "seconds": 52, "milliseconds": 500}, {"year": 2024, "month": 11, "date": 21, "hours": 14, "minutes": 10, "seconds": 37, "milliseconds": 500}], "nice": false, "padding": 0}, "axis": null},
        "y": {"field": "v", "type": "quantitative", "scale": {"domain": [0.58563964, 0.5895526], "nice": false, "zero": false},
          "axis": {"orient": "right", "title": null, "values": [0.58574, 0.58599, 0.58624, 0.58649, 0.58674, 0.58699, 0.58724, 0.58749, 0.58774, 0.58799, 0.58824, 0.58849, 0.58874, 0.58899, 0.58924, 0.58949], "format": ".5f", "grid": false, "domain": true, "tickSize": 4, "labelPadding": 3, "labelAlign": "left", "labelBaseline": "middle", "labelOverlap": false, "labelFlush": false}}
      }
    },
    {
      "data": {"name": "candles"},
      "mark": {"type": "bar", "size": 4, "stroke": "black", "strokeWidth": 1, "clip": true},
      "encoding": {
        "x": {"field": "t", "type": "temporal", "scale": {"domain": [{"year": 2024, "month": 11, "date": 19, "hours": 23, "minutes": 36, "seconds": 52, "milliseconds": 500}, {"year": 2024, "month": 11, "date": 21, "hours": 14, "minutes": 10, "seconds": 37, "milliseconds": 500}], "nice": false, "padding": 0}, "axis": null},
        "y": {"field": "o", "type": "quantitative", "scale": {"domain": [0.58563964, 0.5895526], "nice": false, "zero": false},
          "axis": {"orient": "right", "title": null, "values": [0.58574, 0.58599, 0.58624, 0.58649, 0.58674, 0.58699, 0.58724, 0.58749, 0.58774, 0.58799, 0.58824, 0.58849, 0.58874, 0.58899, 0.58924, 0.58949], "format": ".5f", "grid": false, "domain": true, "tickSize": 4, "labelPadding": 3, "labelAlign": "left", "labelBaseline": "middle", "labelOverlap": false, "labelFlush": false}},
        "y2": {"field": "c"},
        "fill": {"condition": {"test": "datum.c >= datum.o", "value": "white"}, "value": "black"}
      }
    },
    {
      "data": {"name": "arrows"},
      "mark": {"type": "rule", "color": "black", "strokeWidth": 4},
      "encoding": {
        "x": {"field": "t1", "type": "temporal", "scale": {"domain": [{"year": 2024, "month": 11, "date": 19, "hours": 23, "minutes": 36, "seconds": 52, "milliseconds": 500}, {"year": 2024, "month": 11, "date": 21, "hours": 14, "minutes": 10, "seconds": 37, "milliseconds": 500}], "nice": false, "padding": 0}, "axis": null},
        "x2": {"field": "t2"},
        "y": {"field": "p1", "type": "quantitative", "scale": {"domain": [0.58563964, 0.5895526], "nice": false, "zero": false},
          "axis": {"orient": "right", "title": null, "values": [0.58574, 0.58599, 0.58624, 0.58649, 0.58674, 0.58699, 0.58724, 0.58749, 0.58774, 0.58799, 0.58824, 0.58849, 0.58874, 0.58899, 0.58924, 0.58949], "format": ".5f", "grid": false, "domain": true, "tickSize": 4, "labelPadding": 3, "labelAlign": "left", "labelBaseline": "middle", "labelOverlap": false, "labelFlush": false}},
        "y2": {"field": "p2"}
      }
    },
    {
      "data": {"values": [{"t": "2024-11-21T08:00:00", "p": 0.588634}]},
      "mark": {"type": "point", "shape": "triangle-up", "angle": 19.7, "filled": true, "color": "black", "opacity": 1, "size": 200},
      "encoding": {
        "x": {"field": "t", "type": "temporal", "scale": {"domain": [{"year": 2024, "month": 11, "date": 19, "hours": 23, "minutes": 36, "seconds": 52, "milliseconds": 500}, {"year": 2024, "month": 11, "date": 21, "hours": 14, "minutes": 10, "seconds": 37, "milliseconds": 500}], "nice": false, "padding": 0}, "axis": null},
        "y": {"field": "p", "type": "quantitative", "scale": {"domain": [0.58563964, 0.5895526], "nice": false, "zero": false},
          "axis": {"orient": "right", "title": null, "values": [0.58574, 0.58599, 0.58624, 0.58649, 0.58674, 0.58699, 0.58724, 0.58749, 0.58774, 0.58799, 0.58824, 0.58849, 0.58874, 0.58899, 0.58924, 0.58949], "format": ".5f", "grid": false, "domain": true, "tickSize": 4, "labelPadding": 3, "labelAlign": "left", "labelBaseline": "middle", "labelOverlap": false, "labelFlush": false}}
      }
    },
    {
      "data": {"values": [{"t": "2024-11-21T09:26:54", "p": 0.586378}]},
      "mark": {"type": "point", "shape": "triangle-down", "angle": -8.5, "filled": true, "color": "black", "opacity": 1, "size": 200},
      "encoding": {
        "x": {"field": "t", "type": "temporal", "scale": {"domain": [{"year": 2024, "month": 11, "date": 19, "hours": 23, "minutes": 36, "seconds": 52, "milliseconds": 500}, {"year": 2024, "month": 11, "date": 21, "hours": 14, "minutes": 10, "seconds": 37, "milliseconds": 500}], "nice": false, "padding": 0}, "axis": null},
        "y": {"field": "p", "type": "quantitative", "scale": {"domain": [0.58563964, 0.5895526], "nice": false, "zero": false},
          "axis": {"orient": "right", "title": null, "values": [0.58574, 0.58599, 0.58624, 0.58649, 0.58674, 0.58699, 0.58724, 0.58749, 0.58774, 0.58799, 0.58824, 0.58849, 0.58874, 0.58899, 0.58924, 0.58949], "format": ".5f", "grid": false, "domain": true, "tickSize": 4, "labelPadding": 3, "labelAlign": "left", "labelBaseline": "middle", "labelOverlap": false, "labelFlush": false}}
      }
    },
    {
      "data": {"values": [{"t1": "2024-11-21T14:11:30", "t2": "2024-11-21T15:20:30", "p1": 0.587797, "p2": 0.587857}]},
      "mark": {"type": "rect", "color": "black"},
      "encoding": {
        "x": {"field": "t1", "type": "temporal", "scale": {"domain": [{"year": 2024, "month": 11, "date": 19, "hours": 23, "minutes": 36, "seconds": 52, "milliseconds": 500}, {"year": 2024, "month": 11, "date": 21, "hours": 14, "minutes": 10, "seconds": 37, "milliseconds": 500}], "nice": false, "padding": 0}, "axis": null},
        "x2": {"field": "t2"},
        "y": {"field": "p1", "type": "quantitative", "scale": {"domain": [0.58563964, 0.5895526], "nice": false, "zero": false},
          "axis": {"orient": "right", "title": null, "values": [0.58574, 0.58599, 0.58624, 0.58649, 0.58674, 0.58699, 0.58724, 0.58749, 0.58774, 0.58799, 0.58824, 0.58849, 0.58874, 0.58899, 0.58924, 0.58949], "format": ".5f", "grid": false, "domain": true, "tickSize": 4, "labelPadding": 3, "labelAlign": "left", "labelBaseline": "middle", "labelOverlap": false, "labelFlush": false}},
        "y2": {"field": "p2"}
      }
    },
    {
      "data": {"values": [{"t": "2024-11-21T14:19:24", "p": 0.58783, "label": "0.58783"}]},
      "mark": {"type": "text", "color": "white", "align": "left", "baseline": "middle", "font": "DejaVu Sans", "fontSize": 11},
      "encoding": {
        "x": {"field": "t", "type": "temporal", "scale": {"domain": [{"year": 2024, "month": 11, "date": 19, "hours": 23, "minutes": 36, "seconds": 52, "milliseconds": 500}, {"year": 2024, "month": 11, "date": 21, "hours": 14, "minutes": 10, "seconds": 37, "milliseconds": 500}], "nice": false, "padding": 0}, "axis": null},
        "y": {"field": "p", "type": "quantitative", "scale": {"domain": [0.58563964, 0.5895526], "nice": false, "zero": false},
          "axis": {"orient": "right", "title": null, "values": [0.58574, 0.58599, 0.58624, 0.58649, 0.58674, 0.58699, 0.58724, 0.58749, 0.58774, 0.58799, 0.58824, 0.58849, 0.58874, 0.58899, 0.58924, 0.58949], "format": ".5f", "grid": false, "domain": true, "tickSize": 4, "labelPadding": 3, "labelAlign": "left", "labelBaseline": "middle", "labelOverlap": false, "labelFlush": false}},
        "text": {"field": "label"}
      }
    },
    {
      "data": {"values": [{"t": "2024-11-21T14:11:30", "p1": 0.586206, "p2": 0.585957}]},
      "mark": {"type": "rule", "color": "black", "strokeWidth": 3},
      "encoding": {
        "x": {"field": "t", "type": "temporal", "scale": {"domain": [{"year": 2024, "month": 11, "date": 19, "hours": 23, "minutes": 36, "seconds": 52, "milliseconds": 500}, {"year": 2024, "month": 11, "date": 21, "hours": 14, "minutes": 10, "seconds": 37, "milliseconds": 500}], "nice": false, "padding": 0}, "axis": null},
        "y": {"field": "p1", "type": "quantitative", "scale": {"domain": [0.58563964, 0.5895526], "nice": false, "zero": false},
          "axis": {"orient": "right", "title": null, "values": [0.58574, 0.58599, 0.58624, 0.58649, 0.58674, 0.58699, 0.58724, 0.58749, 0.58774, 0.58799, 0.58824, 0.58849, 0.58874, 0.58899, 0.58924, 0.58949], "format": ".5f", "grid": false, "domain": true, "tickSize": 4, "labelPadding": 3, "labelAlign": "left", "labelBaseline": "middle", "labelOverlap": false, "labelFlush": false}},
        "y2": {"field": "p2"}
      }
    },
    {
      "data": {"name": "headers"},
      "mark": {"type": "text", "color": "black", "align": "left", "baseline": "middle", "font": "DejaVu Sans", "fontSize": 11},
      "encoding": {
        "x": {"field": "t", "type": "temporal", "scale": {"domain": [{"year": 2024, "month": 11, "date": 19, "hours": 23, "minutes": 36, "seconds": 52, "milliseconds": 500}, {"year": 2024, "month": 11, "date": 21, "hours": 14, "minutes": 10, "seconds": 37, "milliseconds": 500}], "nice": false, "padding": 0}, "axis": null},
        "y": {"field": "p", "type": "quantitative", "scale": {"domain": [0.58563964, 0.5895526], "nice": false, "zero": false},
          "axis": {"orient": "right", "title": null, "values": [0.58574, 0.58599, 0.58624, 0.58649, 0.58674, 0.58699, 0.58724, 0.58749, 0.58774, 0.58799, 0.58824, 0.58849, 0.58874, 0.58899, 0.58924, 0.58949], "format": ".5f", "grid": false, "domain": true, "tickSize": 4, "labelPadding": 3, "labelAlign": "left", "labelBaseline": "middle", "labelOverlap": false, "labelFlush": false}},
        "text": {"field": "label"}
      }
    }
  ]
},
{
  "width": 1851,
  "height": 68,
  "encoding": {
    "x": {"field": "t", "type": "temporal", "scale": {"domain": [{"year": 2024, "month": 11, "date": 19, "hours": 23, "minutes": 36, "seconds": 52, "milliseconds": 500}, {"year": 2024, "month": 11, "date": 21, "hours": 14, "minutes": 10, "seconds": 37, "milliseconds": 500}], "nice": false, "padding": 0},
      "axis": {"orient": "bottom", "title": null, "values": [
        {"year": 2024, "month": 11, "date": 19, "hours": 23, "minutes": 40},
        {"year": 2024, "month": 11, "date": 20, "hours": 1, "minutes": 40},
        {"year": 2024, "month": 11, "date": 20, "hours": 3, "minutes": 40},
        {"year": 2024, "month": 11, "date": 20, "hours": 5, "minutes": 40},
        {"year": 2024, "month": 11, "date": 20, "hours": 7, "minutes": 40},
        {"year": 2024, "month": 11, "date": 20, "hours": 9, "minutes": 40},
        {"year": 2024, "month": 11, "date": 20, "hours": 11, "minutes": 40},
        {"year": 2024, "month": 11, "date": 20, "hours": 13, "minutes": 40},
        {"year": 2024, "month": 11, "date": 20, "hours": 15, "minutes": 40},
        {"year": 2024, "month": 11, "date": 20, "hours": 17, "minutes": 40},
        {"year": 2024, "month": 11, "date": 20, "hours": 19, "minutes": 40},
        {"year": 2024, "month": 11, "date": 20, "hours": 21, "minutes": 40},
        {"year": 2024, "month": 11, "date": 20, "hours": 23, "minutes": 40},
        {"year": 2024, "month": 11, "date": 21, "hours": 1, "minutes": 40},
        {"year": 2024, "month": 11, "date": 21, "hours": 3, "minutes": 40},
        {"year": 2024, "month": 11, "date": 21, "hours": 5, "minutes": 40}
      ],
      "labelExpr": "datum.value < datetime(2024, 10, 20, 0, 0) ? '19 Nov 2024' : timeFormat(datum.value, '%d %b %H:%M')",
      "grid": false, "domain": true, "tickSize": 3, "labelPadding": 2, "labelAlign": "left", "labelBaseline": "top", "labelOverlap": false, "labelFlush": false}},
    "y": {"field": "v", "type": "quantitative", "scale": {"domain": [-0.001538, 0.000912], "nice": false, "zero": false},
      "axis": {"orient": "right", "title": null, "values": [-0.0015, 0, 0.0009], "labelExpr": "datum.value > 0 ? '0.0009' : (datum.value < 0 ? '-0.0015' : '0.00')", "grid": false, "domain": true, "tickSize": 4, "labelPadding": 3, "labelAlign": "left", "labelFlush": 3, "labelOverlap": false}}
  },
  "layer": [
    {
      "data": {"name": "osc"},
      "mark": {"type": "bar", "size": 3, "color": "#BDB76B"},
      "encoding": {"y2": {"datum": 0}}
    },
    {
      "data": {"values": [{"t": "2024-11-19T23:45:00", "v": 0.000516, "label": "Elliott Wave Oscillator 0.0000"}]},
      "mark": {"type": "text", "color": "black", "align": "left", "baseline": "middle", "font": "DejaVu Sans", "fontSize": 11},
      "encoding": {"text": {"field": "label"}}
    }
  ]
}
]
}
